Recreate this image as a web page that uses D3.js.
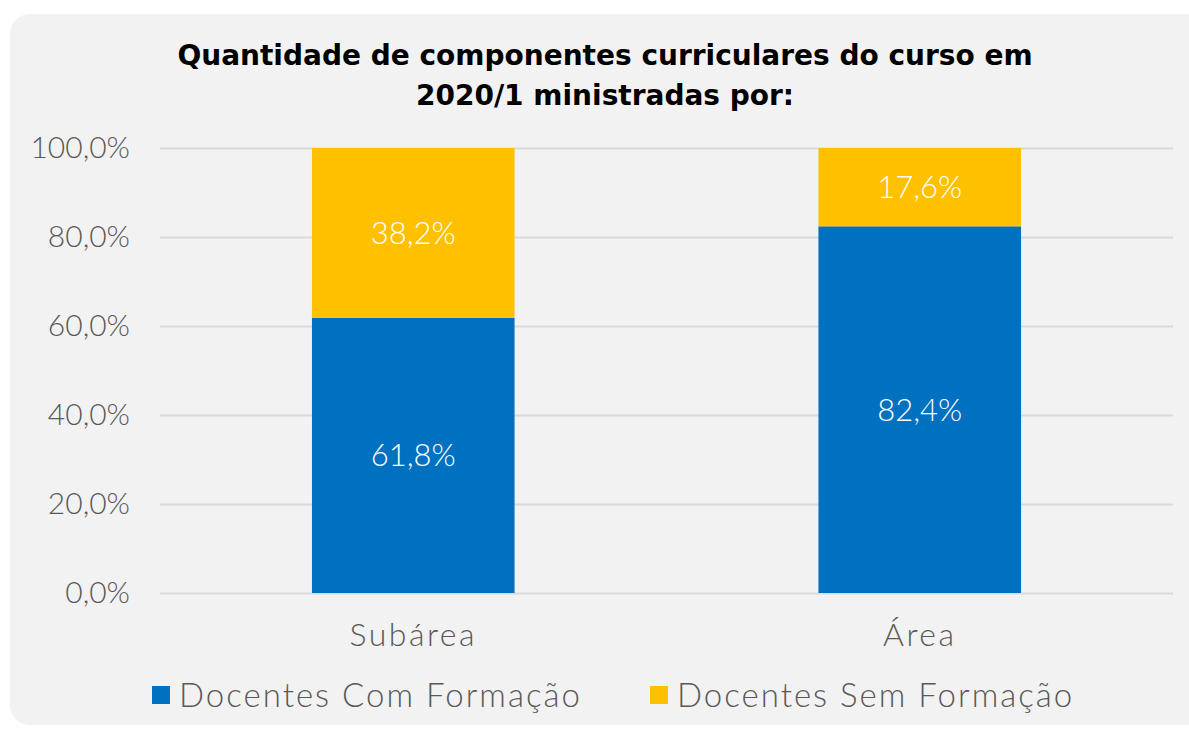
<!DOCTYPE html>
<html>
<head>
<meta charset="utf-8">
<script src="https://cdn.jsdelivr.net/npm/d3@7"></script>
<style>
  html, body { margin: 0; padding: 0; background: #ffffff; }
  svg { display: block; }
</style>
</head>
<body>
<svg id="chart" width="1189" height="729"></svg>
<script>
// Categories, series and tick labels
const categories = ["Subárea", "Área"];
const seriesNames = ["Docentes Com Formação", "Docentes Sem Formação"];
const comFormacao = [61.8, 82.4];
const semFormacao = [38.2, 17.6];
const yTicks = [0, 20, 40, 60, 80, 100];
const titleLines = [
  "Quantidade de componentes curriculares do curso em",
  "2020/1 ministradas por:"
];
const colors = ["#0070C0", "#FFC000"];

const fmt = v => d3.format(".1f")(v).replace(".", ",") + "%";
const lightFont = "Lato, 'Open Sans', sans-serif";

const svg = d3.select("#chart");

// Panel background
svg.append("rect")
  .attr("x", 10).attr("y", 14)
  .attr("width", 1200).attr("height", 711)
  .attr("rx", 20).attr("ry", 20)
  .attr("fill", "#f2f2f2");

// Title
svg.append("g").selectAll("text")
  .data(titleLines)
  .join("text")
  .attr("x", 605)
  .attr("y", (d, i) => 65 + i * 40)
  .attr("text-anchor", "middle")
  .style("font-family", "'DejaVu Sans', sans-serif")
  .style("font-size", "28px")
  .style("font-weight", 700)
  .attr("fill", "#000000")
  .text(d => d);

const plot = { left: 160, right: 1173, top: 148, bottom: 593 };

const x = d3.scaleBand()
  .domain(categories)
  .range([plot.left, plot.right])
  .paddingInner(0.6)
  .paddingOuter(0.3);

const y = d3.scaleLinear()
  .domain([0, 100])
  .range([plot.bottom, plot.top]);

// Gridlines and y labels
const yAxis = d3.axisLeft(y)
  .tickValues(yTicks)
  .tickSize(-(plot.right - plot.left))
  .tickPadding(30)
  .tickFormat(fmt);

const gy = svg.append("g")
  .attr("transform", `translate(${plot.left},0)`)
  .call(yAxis);
gy.select(".domain").remove();
gy.selectAll(".tick line").attr("stroke", "#d9d9d9").attr("stroke-width", 2);
gy.selectAll(".tick text")
  .style("font-family", lightFont)
  .style("font-size", "30px")
  .style("font-weight", 300)
  .attr("fill", "#595959");

// Stacked data
const rows = categories.map((c, i) => ({ cat: c, com: comFormacao[i], sem: semFormacao[i] }));
const stack = d3.stack().keys(["com", "sem"]);
const layers = stack(rows);

const gBars = svg.append("g");
layers.forEach((layer, li) => {
  gBars.append("g")
    .attr("fill", colors[li])
    .selectAll("rect")
    .data(layer)
    .join("rect")
    .attr("x", d => x(d.data.cat))
    .attr("width", x.bandwidth())
    .attr("y", d => y(d[1]))
    .attr("height", d => y(d[0]) - y(d[1]));

  gBars.append("g")
    .selectAll("text")
    .data(layer)
    .join("text")
    .attr("x", d => x(d.data.cat) + x.bandwidth() / 2)
    .attr("y", d => (y(d[0]) + y(d[1])) / 2)
    .attr("dy", "0.35em")
    .attr("text-anchor", "middle")
    .style("font-family", lightFont)
    .style("font-size", "31px")
    .style("font-weight", 300)
    .attr("fill", "#ffffff")
    .text(d => fmt(d[1] - d[0]));
});

// X axis labels
const xAxis = d3.axisBottom(x).tickSize(0).tickPadding(30);
const gx = svg.append("g")
  .attr("transform", `translate(0,${plot.bottom})`)
  .call(xAxis);
gx.select(".domain").remove();
gx.selectAll(".tick text")
  .style("font-family", lightFont)
  .style("font-size", "32px")
  .style("font-weight", 300)
  .style("letter-spacing", "2.5px")
  .attr("fill", "#595959");

// Legend
const legendX = [152, 650];
const legend = svg.append("g").selectAll("g")
  .data(seriesNames)
  .join("g")
  .attr("transform", (d, i) => `translate(${legendX[i]},695)`);
legend.append("rect")
  .attr("x", 0).attr("y", -9)
  .attr("width", 18).attr("height", 18)
  .attr("fill", (d, i) => colors[i]);
legend.append("text")
  .attr("x", 27)
  .attr("dy", "0.35em")
  .style("font-family", lightFont)
  .style("font-size", "33px")
  .style("font-weight", 300)
  .style("letter-spacing", "2px")
  .attr("fill", "#595959")
  .text(d => d);
</script>
</body>
</html>
